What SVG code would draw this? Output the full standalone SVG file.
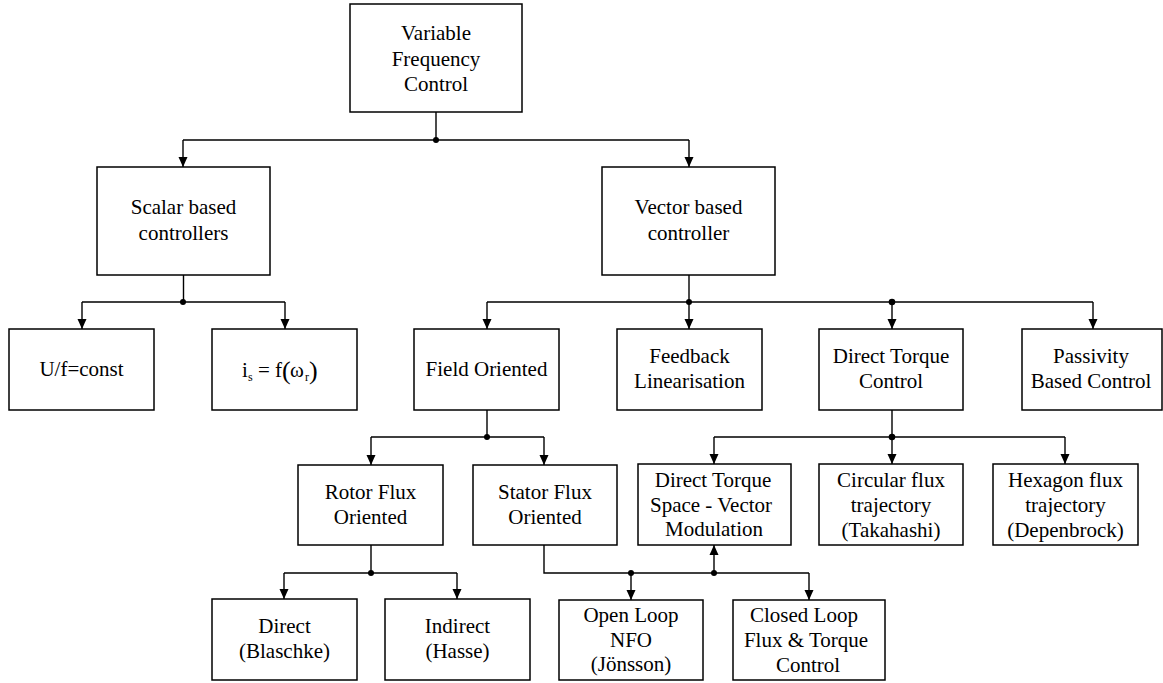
<svg xmlns="http://www.w3.org/2000/svg" width="1163" height="683" viewBox="0 0 1163 683">
<style>
.box{fill:#fff;stroke:#000;stroke-width:1.5}
.t{font-size:21px;fill:#000;text-anchor:middle}
.c{fill:none;stroke:#000;stroke-width:1.4}
.a{marker-end:url(#arr)}
.dot{fill:#000}
</style>
<defs>
<marker id="arr" viewBox="0 0 10 10" refX="10" refY="5" markerWidth="10" markerHeight="10" orient="auto" markerUnits="userSpaceOnUse">
<path d="M0,0.5 L10,5 L0,9.5 z" fill="#000"/>
</marker>
</defs>
<rect width="1163" height="683" fill="#fff"/>
<g id="connectors">
<path class="c" d="M436,112 V140 M183,140 H689"/>
<path class="c a" d="M183,140 V167"/>
<path class="c a" d="M689,140 V167"/>
<path class="c" d="M183.5,275 V302 M82,302 H285"/>
<path class="c a" d="M82,302 V329"/>
<path class="c a" d="M285,302 V329"/>
<path class="c" d="M689,275 V302 M487,302 H1093"/>
<path class="c a" d="M487,302 V329"/>
<path class="c a" d="M689,302 V329"/>
<path class="c a" d="M892,302 V329"/>
<path class="c a" d="M1093,302 V329"/>
<path class="c" d="M487,410 V437 M371,437 H544"/>
<path class="c a" d="M371,437 V465"/>
<path class="c a" d="M544,437 V465"/>
<path class="c" d="M892,410 V437 M714,437 H1065"/>
<path class="c a" d="M714,437 V464"/>
<path class="c a" d="M892,437 V464"/>
<path class="c a" d="M1065,437 V464"/>
<path class="c" d="M371,545 V573 M284,573 H457"/>
<path class="c a" d="M284,573 V599"/>
<path class="c a" d="M457,573 V599"/>
<path class="c" d="M544,545 V573 H809"/>
<path class="c a" d="M631,573 V600"/>
<path class="c a" d="M809,573 V600"/>
<path class="c a" d="M714,573 V545"/>
<circle class="dot" cx="436" cy="140" r="3"/>
<circle class="dot" cx="183" cy="302" r="3"/>
<circle class="dot" cx="689" cy="302" r="3"/>
<circle class="dot" cx="892" cy="302" r="3.3"/>
<circle class="dot" cx="487" cy="437" r="3"/>
<circle class="dot" cx="892" cy="437" r="3.3"/>
<circle class="dot" cx="371" cy="573" r="3"/>
<circle class="dot" cx="631" cy="573" r="3"/>
<circle class="dot" cx="714" cy="573" r="3"/>
</g>
<g font-family="'Liberation Serif', 'Times New Roman', serif">
<g id="vfc"><rect class="box" x="350" y="4" width="172" height="108"/>
<text class="t" x="436" y="40">Variable</text><text class="t" x="436" y="65.5">Frequency</text><text class="t" x="436" y="91">Control</text></g>
<g id="scalar"><rect class="box" x="97" y="167" width="173" height="108"/>
<text class="t" x="183.5" y="214">Scalar based</text><text class="t" x="183.5" y="240">controllers</text></g>
<g id="vector"><rect class="box" x="602" y="167" width="173" height="108"/>
<text class="t" x="688.5" y="214">Vector based</text><text class="t" x="688.5" y="240">controller</text></g>
<g id="uf"><rect class="box" x="9" y="329" width="145" height="81"/>
<text class="t" x="81.5" y="376">U/f=const</text></g>
<g id="is"><rect class="box" x="212" y="329" width="145" height="81"/>
<text font-size="21" fill="#000"><tspan x="242" y="377">i</tspan><tspan x="248" y="381" font-size="12">s</tspan><tspan x="258" y="377">=</tspan><tspan x="275" y="377">f</tspan><tspan x="282" y="379" font-size="26">(</tspan><tspan x="290" y="377">ω</tspan><tspan x="305" y="381" font-size="12">r</tspan><tspan x="309" y="379" font-size="26">)</tspan></text></g>
<g id="fo"><rect class="box" x="414" y="329" width="145" height="81"/>
<text class="t" x="486.5" y="376">Field Oriented</text></g>
<g id="fl"><rect class="box" x="617" y="329" width="145" height="81"/>
<text class="t" x="689.5" y="363">Feedback</text><text class="t" x="689.5" y="388">Linearisation</text></g>
<g id="dtc"><rect class="box" x="819" y="329" width="144" height="81"/>
<text class="t" x="891" y="363">Direct Torque</text><text class="t" x="891" y="388">Control</text></g>
<g id="pbc"><rect class="box" x="1022" y="329" width="140" height="81"/>
<text class="t" x="1091" y="363">Passivity</text><text class="t" x="1091" y="388">Based Control</text></g>
<g id="rotor"><rect class="box" x="298" y="465" width="145" height="80"/>
<text class="t" x="370.5" y="499">Rotor Flux</text><text class="t" x="370.5" y="523.5">Oriented</text></g>
<g id="stator"><rect class="box" x="473" y="465" width="144" height="80"/>
<text class="t" x="545" y="499">Stator Flux</text><text class="t" x="545" y="523.5">Oriented</text></g>
<g id="dtsvm"><rect class="box" x="638" y="464" width="153" height="81"/>
<text class="t" x="713" y="487">Direct Torque</text><text class="t" x="711" y="512">Space - Vector</text><text class="t" x="714" y="536">Modulation</text></g>
<g id="circ"><rect class="box" x="819" y="464" width="144" height="81"/>
<text class="t" x="891" y="487">Circular flux</text><text class="t" x="891" y="512">trajectory</text><text class="t" x="891" y="537">(Takahashi)</text></g>
<g id="hex"><rect class="box" x="993" y="464" width="145" height="81"/>
<text class="t" x="1065.5" y="487">Hexagon flux</text><text class="t" x="1065.5" y="512">trajectory</text><text class="t" x="1065.5" y="537">(Depenbrock)</text></g>
<g id="direct"><rect class="box" x="212" y="599" width="145" height="81"/>
<text class="t" x="284.5" y="633">Direct</text><text class="t" x="284.5" y="658">(Blaschke)</text></g>
<g id="indirect"><rect class="box" x="385" y="599" width="145" height="81"/>
<text class="t" x="457.5" y="633">Indirect</text><text class="t" x="457.5" y="658">(Hasse)</text></g>
<g id="open"><rect class="box" x="559" y="600" width="144" height="80"/>
<text class="t" x="631" y="622">Open Loop</text><text class="t" x="631" y="647">NFO</text><text class="t" x="631" y="671">(Jönsson)</text></g>
<g id="closed"><rect class="box" x="733" y="600" width="152" height="80"/>
<text class="t" x="804" y="622">Closed Loop</text><text class="t" x="806" y="647">Flux &amp; Torque</text><text class="t" x="808" y="672">Control</text></g>
</g>
</svg>
